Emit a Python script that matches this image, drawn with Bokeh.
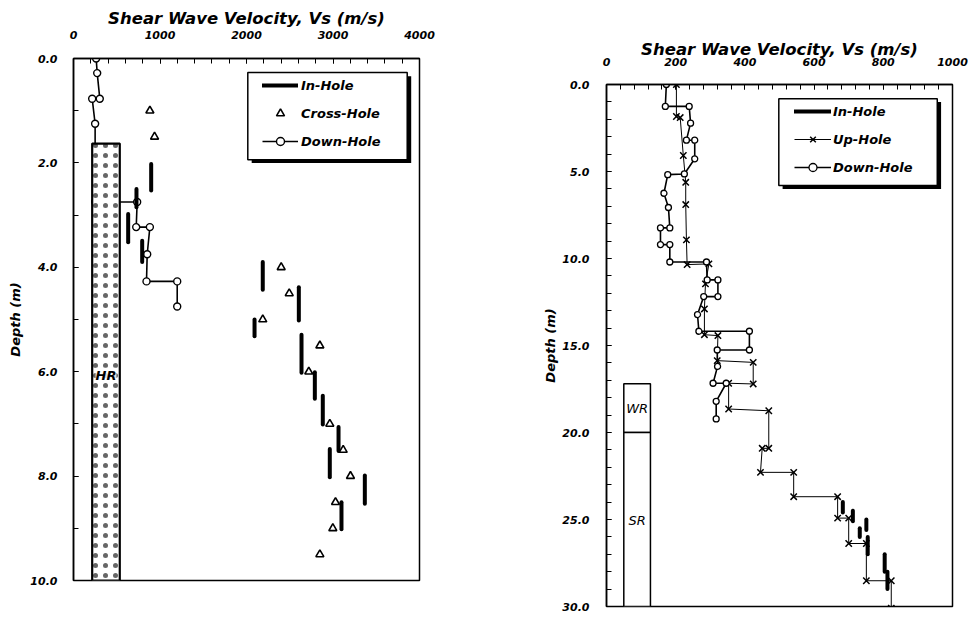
from bokeh.plotting import figure
from bokeh.layouts import row, column
from bokeh.models import (Range1d, FixedTicker, PrintfTickFormatter, Legend,
                          LegendItem, BoxAnnotation, Label)
from bokeh.embed import file_html
from bokeh.resources import INLINE

FONT = "DejaVu Sans"

# ---------------- Left chart data ----------------
x1_ticks = [0, 1000, 2000, 3000, 4000]
x1_minor = list(range(0, 4001, 200))
y1_ticks = [0, 2, 4, 6, 8, 10]
y1_minor = list(range(0, 11, 1))

dh1_v = [262, 274, 304, 216, 250, 250, 736, 725, 883, 852, 844, 1199, 1199]
dh1_d = [0.0, 0.28, 0.77, 0.77, 1.25, 2.75, 2.75, 3.23, 3.23, 3.75, 4.27, 4.27, 4.75]

ch1_v = [883, 937, 2401, 2494, 2188, 2848, 2720, 2963, 3118, 3202, 3029, 2998, 2848]
ch1_d = [1.0, 1.5, 4.0, 4.5, 5.0, 5.5, 6.0, 7.0, 7.5, 8.0, 8.5, 9.0, 9.5]

ih1_v = [898, 728, 632, 794, 2188, 2605, 2093, 2636, 2790, 2882, 3064, 2963, 3368, 3098]
ih1_top = [2.02, 2.5, 2.98, 3.49, 3.9, 4.38, 5.0, 5.29, 6.01, 6.46, 7.06, 7.48, 7.99, 8.5]
ih1_bot = [2.53, 2.85, 3.52, 3.9, 4.43, 5.02, 5.32, 6.02, 6.52, 7.01, 7.52, 8.02, 8.53, 9.02]

hr_v = [216, 535]
hr_d = [1.63, 10.0]

# ---------------- Right chart data ----------------
x2_ticks = [0, 200, 400, 600, 800, 1000]
x2_minor = list(range(0, 1001, 40))
y2_ticks = [0, 5, 10, 15, 20, 25, 30]
y2_minor = list(range(0, 31, 1))

dh2_v = [173, 170, 239, 243, 231, 255, 255, 225, 177, 166, 179, 183, 156, 156, 183, 183,
         289, 291, 322, 322, 281, 263, 267, 413, 413, 320, 321, 308, 346, 317, 317]
dh2_d = [0.0, 1.26, 1.26, 2.22, 3.2, 3.2, 4.27, 5.14, 5.18, 6.25, 7.07, 8.24, 8.24, 9.2, 9.2, 10.2,
         10.2, 11.23, 11.23, 12.19, 12.19, 13.22, 14.18, 14.18, 15.26, 15.26, 16.2, 17.17, 17.17, 18.21, 19.22]

uh2_v = [202, 202, 213, 222, 229, 229, 231, 233, 296, 286, 283, 283, 322, 320, 424, 424,
         353, 353, 469, 469, 450, 445, 541, 541, 668, 668, 700, 700, 751, 751, 823, 823]
uh2_d = [0.0, 1.84, 1.9, 4.08, 5.62, 6.9, 8.93, 10.35, 10.31, 11.46, 12.9, 14.38, 14.43, 15.87, 15.97, 17.21,
         17.17, 18.65, 18.75, 20.91, 20.91, 22.29, 22.29, 23.69, 23.69, 24.92, 24.92, 26.38, 26.38, 28.52, 28.52, 30.1]

ih2_v = [683, 712, 751, 732, 755, 804, 812]
ih2_top = [24.0, 24.5, 25.0, 25.5, 26.0, 27.0, 28.0]
ih2_bot = [24.6, 25.1, 25.6, 26.0, 27.0, 28.0, 29.0]

wr_v = [50, 127]
wr_d = [17.2, 20.0]
sr_v = [50, 127]
sr_d = [20.0, 30.0]

TITLE = "Shear Wave Velocity, Vs (m/s)"


def style(p, xt, xm, yt, ym, xlab_standoff, xtitle_standoff, ylab_standoff, ytitle_standoff):
    p.outline_line_color = "black"
    p.outline_line_width = 1.5
    p.xgrid.visible = False
    p.ygrid.visible = False
    p.background_fill_color = "white"
    p.border_fill_color = "white"
    for ax, t, m, f in ((p.xaxis[0], xt, xm, "%d"), (p.yaxis[0], yt, ym, "%.1f")):
        ax.ticker = FixedTicker(ticks=t, minor_ticks=m)
        ax.formatter = PrintfTickFormatter(format=f)
        ax.axis_line_color = "black"
        ax.axis_line_width = 1.5
        ax.major_tick_in = 5
        ax.major_tick_out = 0
        ax.minor_tick_in = 5
        ax.minor_tick_out = 0
        ax.major_tick_line_color = "black"
        ax.minor_tick_line_color = "black"
        ax.major_label_text_font = FONT
        ax.major_label_text_font_style = "bold italic"
        ax.major_label_text_font_size = "11px"
        ax.major_label_text_color = "black"
        ax.axis_label_text_font = FONT
        ax.axis_label_text_font_style = "bold italic"
        ax.axis_label_text_color = "black"
    p.xaxis[0].axis_label = TITLE
    p.xaxis[0].axis_label_text_font_size = "16.5px"
    p.xaxis[0].major_label_standoff = xlab_standoff
    p.xaxis[0].axis_label_standoff = xtitle_standoff
    p.yaxis[0].axis_label = "Depth (m)"
    p.yaxis[0].axis_label_text_font_size = "13px"
    p.yaxis[0].major_label_standoff = ylab_standoff
    p.yaxis[0].axis_label_standoff = ytitle_standoff


# ================= Left figure =================
p1 = figure(width=540, height=615, x_range=Range1d(0, 4000), y_range=Range1d(10, 0),
            x_axis_location="above", output_backend="svg", toolbar_location=None,
            min_border_left=73, min_border_right=121, min_border_top=58, min_border_bottom=35)
style(p1, x1_ticks, x1_minor, y1_ticks, y1_minor, 20, 0, 16, 4)

dl1 = p1.line(dh1_v, dh1_d, line_color="black", line_width=1.6)
ds1 = p1.scatter(dh1_v, dh1_d, marker="circle", size=7, fill_color="white",
                 line_color="black", line_width=1.4)
# HR layer (stippled)
p1.quad(left=[hr_v[0]], right=[hr_v[1]], top=[hr_d[0]], bottom=[hr_d[1]],
        fill_color="white", line_color="black", line_width=2.2, hatch_pattern="dot",
        hatch_scale=10, hatch_weight=1.0, hatch_color="black", hatch_alpha=0.6)
p1.add_layout(Label(x=(hr_v[0] + hr_v[1]) / 2, y=6.07, text="HR", text_align="center",
                    text_baseline="middle", text_font=FONT, text_font_style="bold italic",
                    text_font_size="13px", text_color="black",
                    background_fill_color="white", background_fill_alpha=0.8))

ir1 = p1.segment(x0=ih1_v, y0=ih1_top, x1=ih1_v, y1=ih1_bot, line_color="black",
                 line_width=4, line_cap="round")
cs1 = p1.scatter(ch1_v, ch1_d, marker="triangle", size=8, fill_color="white",
                 line_color="black", line_width=1.6)

# legend frame + shadow (data coordinates)
p1.add_layout(BoxAnnotation(left=2060, right=3904, top=0.34, bottom=2.0, fill_color="black",
                            fill_alpha=1, line_color=None))
p1.add_layout(BoxAnnotation(left=2015, right=3858, top=0.27, bottom=1.94, fill_color="white",
                            fill_alpha=1, line_color="black", line_width=1.5, line_alpha=1))
leg1 = Legend(items=[LegendItem(label="In-Hole", renderers=[ir1]),
                     LegendItem(label="Cross-Hole", renderers=[cs1]),
                     LegendItem(label="Down-Hole", renderers=[dl1, ds1])],
              location=(189, 429), margin=0, padding=5, spacing=8, label_height=20,
              glyph_height=20, glyph_width=36, label_standoff=3,
              background_fill_alpha=0, border_line_color=None,
              label_text_font=FONT, label_text_font_style="bold italic",
              label_text_font_size="13px", label_text_color="black")
p1.add_layout(leg1, "center")

# ================= Right figure =================
p2 = figure(width=428, height=615, x_range=Range1d(0, 1000), y_range=Range1d(30, 0),
            x_axis_location="above", output_backend="svg", toolbar_location=None,
            min_border_left=66, min_border_right=16, min_border_top=84, min_border_bottom=9)
style(p2, x2_ticks, x2_minor, y2_ticks, y2_minor, 19, -4, 17, 1)

p2.quad(left=[wr_v[0]], right=[wr_v[1]], top=[wr_d[0]], bottom=[wr_d[1]], fill_color="white",
        line_color="black", line_width=1.5)
p2.quad(left=[sr_v[0]], right=[sr_v[1]], top=[sr_d[0]], bottom=[sr_d[1]], fill_color="white",
        line_color="black", line_width=1.5)
p2.add_layout(Label(x=(wr_v[0] + wr_v[1]) / 2, y=(wr_d[0] + wr_d[1]) / 2, text="WR",
                    text_align="center", text_baseline="middle", text_font=FONT,
                    text_font_style="italic", text_font_size="13px", text_color="black"))
p2.add_layout(Label(x=(sr_v[0] + sr_v[1]) / 2, y=25.07, text="SR",
                    text_align="center", text_baseline="middle", text_font=FONT,
                    text_font_style="italic", text_font_size="13px", text_color="black"))

ul2 = p2.line(uh2_v, uh2_d, line_color="black", line_width=1.0)
us2 = p2.scatter(uh2_v, uh2_d, marker="x", size=9, line_color="black", line_width=1.5)
dl2 = p2.line(dh2_v, dh2_d, line_color="black", line_width=1.6)
ds2 = p2.scatter(dh2_v, dh2_d, marker="circle", size=6, fill_color="white",
                 line_color="black", line_width=1.3)
ir2 = p2.segment(x0=ih2_v, y0=ih2_top, x1=ih2_v, y1=ih2_bot, line_color="black",
                 line_width=4, line_cap="round")

p2.add_layout(BoxAnnotation(left=509, right=967, top=1.0, bottom=6.0, fill_color="black",
                            fill_alpha=1, line_color=None))
p2.add_layout(BoxAnnotation(left=498, right=956, top=0.82, bottom=5.81, fill_color="white",
                            fill_alpha=1, line_color="black", line_width=1.5, line_alpha=1))
leg2 = Legend(items=[LegendItem(label="In-Hole", renderers=[ir2]),
                     LegendItem(label="Up-Hole", renderers=[ul2, us2]),
                     LegendItem(label="Down-Hole", renderers=[dl2, ds2])],
              location=(188, 429), margin=0, padding=5, spacing=8, label_height=20,
              glyph_height=20, glyph_width=37, label_standoff=2,
              background_fill_alpha=0, border_line_color=None,
              label_text_font=FONT, label_text_font_style="bold italic",
              label_text_font_size="13px", label_text_color="black")
p2.add_layout(leg2, "center")

layout = row(column(p1), column(p2))
open("out.html", "w").write(file_html(layout, INLINE))
